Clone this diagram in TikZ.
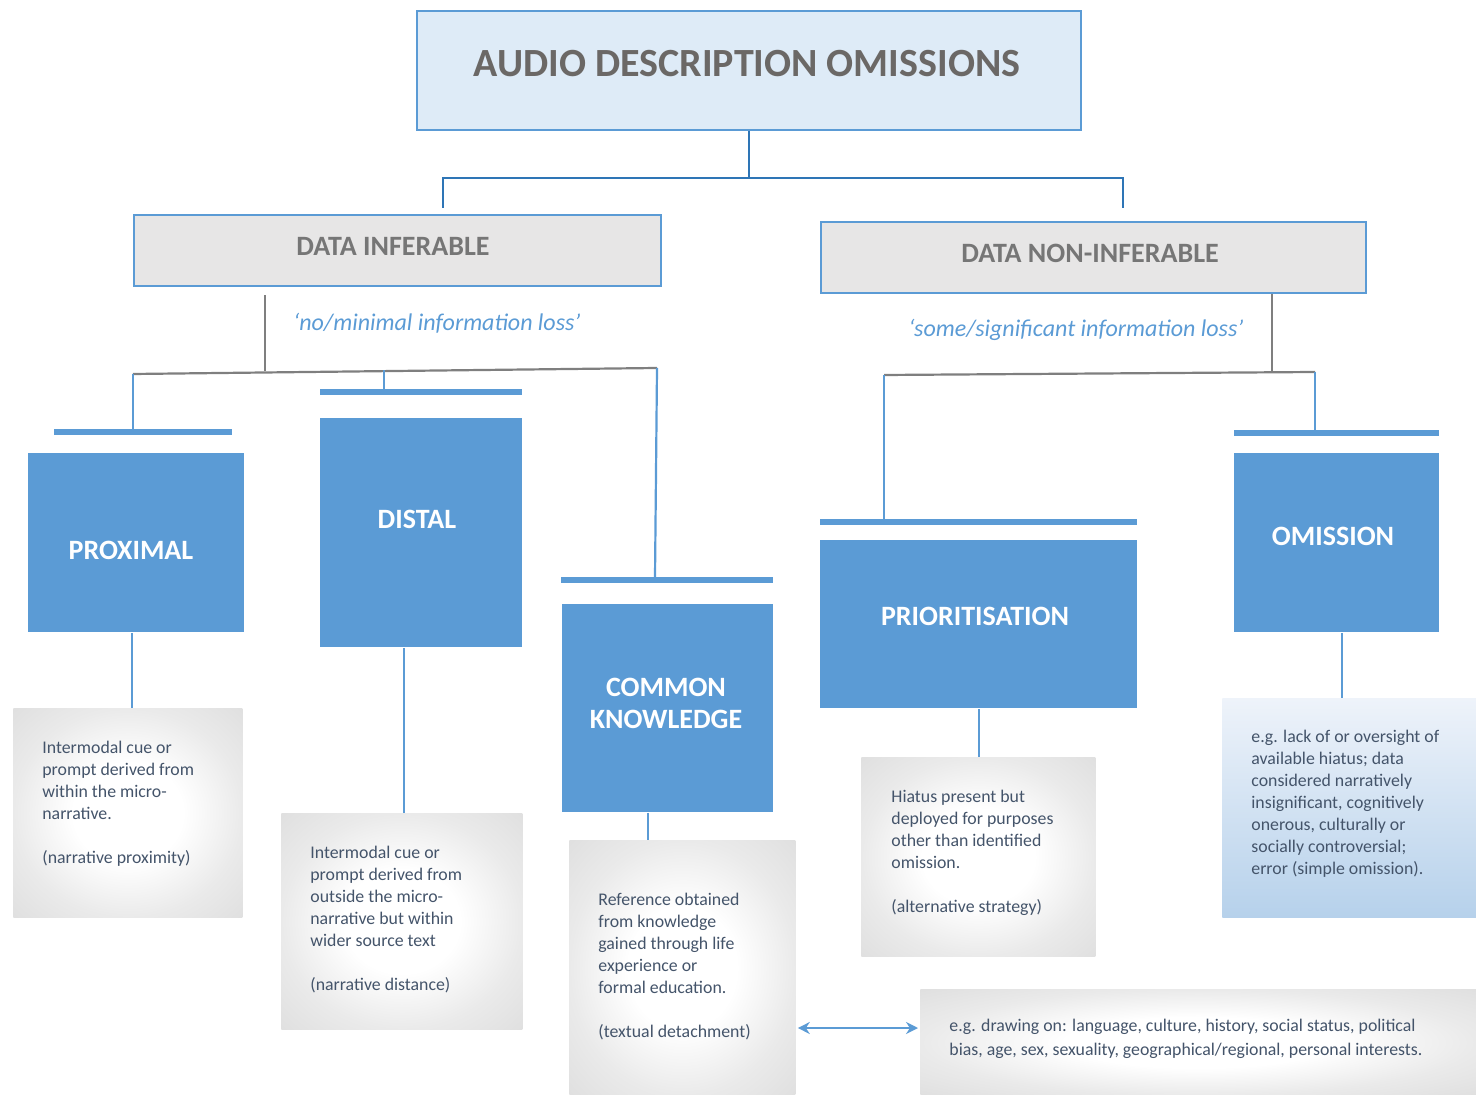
\documentclass[tikz,border=0pt]{standalone}
\usepackage{fontspec}
\setmainfont{Carlito}
\usetikzlibrary{arrows.meta,calc}
\definecolor{myblue}{HTML}{5B9BD5}
\definecolor{darkblue}{HTML}{2E75B6}
\definecolor{titlefill}{HTML}{DEEBF7}
\definecolor{greyfill}{HTML}{E7E6E6}
\definecolor{titletext}{HTML}{6B6866}
\definecolor{greytext}{HTML}{767676}
\definecolor{linegrey}{HTML}{7F7F7F}
\definecolor{desctext}{HTML}{44546A}
\definecolor{descmid}{HTML}{EAEAEA}
\definecolor{descedge}{HTML}{DFDFDF}
\definecolor{omtop}{HTML}{EEF3FA}
\definecolor{ombot}{HTML}{B6D1EB}
\pgfdeclareradialshading{descshade}{\pgfpoint{0bp}{0bp}}{color(0bp)=(white); color(12bp)=(white); color(25bp)=(descmid); color(36bp)=(descedge); color(50bp)=(descedge)}
\begin{document}
\begin{tikzpicture}[x=0.5pt,y=-0.5pt,
  box/.style={inner sep=0pt, anchor=north west},
  titlebox/.style={box, fill=titlefill, draw=myblue, line width=1.2pt},
  greybox/.style={box, fill=greyfill, draw=myblue, line width=1.2pt},
  bluebox/.style={box, fill=myblue},
  bar/.style={box, fill=myblue, minimum height=3pt},
  descbox/.style={box, shading=descshade},
  ombox/.style={box, top color=omtop, bottom color=ombot},
  bigtxt/.style={inner sep=0pt, text=titletext, font=\fontsize{20}{24}\selectfont\bfseries},
  midtxt/.style={inner sep=0pt, text=greytext, font=\fontsize{14}{17}\selectfont\bfseries},
  whitetxt/.style={inner sep=0pt, text=white, align=center, font=\fontsize{14}{16}\selectfont\bfseries},
  losstxt/.style={inner sep=0pt, text=myblue, font=\fontsize{12}{14}\selectfont\itshape},
  desctxt/.style={inner sep=0pt, anchor=west, align=left, text=desctext, font=\fontsize{8.9}{11}\selectfont},
  topline/.style={draw=darkblue, line width=1.2pt},
  greyline/.style={draw=linegrey, line width=1.1pt},
  blueline/.style={draw=myblue, line width=1.1pt},
  arr/.style={draw=myblue, line width=1.3pt, {Stealth[length=6pt,width=6pt]}-{Stealth[length=6pt,width=6pt]}}
]
\useasboundingbox (0,0) rectangle (1476,1095);

% top level
\node[titlebox, minimum width=332pt, minimum height=59.5pt] (title) at (416,10) {};
\node[bigtxt] (titlet) at (747,64) {AUDIO DESCRIPTION OMISSIONS};

\node[greybox, minimum width=263.5pt, minimum height=35.5pt] (di) at (133,214) {};
\node[midtxt] (dit) at (393,246) {DATA INFERABLE};
\node[greybox, minimum width=272.5pt, minimum height=35.5pt] (dni) at (820,221) {};
\node[midtxt] (dnit) at (1090,253) {DATA NON-INFERABLE};

\node[losstxt] (loss1) at (437,323) {‘no/minimal information loss’};
\node[losstxt] (loss2) at (1076,330) {‘some/significant information loss’};

% bars
\node[bar, minimum width=89pt] (pbar) at (54,429) {};
\node[bar, minimum width=101pt] (dbar) at (320,389) {};
\node[bar, minimum width=106pt] (cbar) at (561,577) {};
\node[bar, minimum width=158.5pt] (prbar) at (820,519) {};
\node[bar, minimum width=102.5pt] (obar) at (1234,430) {};

% blue boxes
\node[bluebox, minimum width=108pt, minimum height=89.5pt] (prox) at (28,453) {};
\node[whitetxt] (proxt) at (131,550) {PROXIMAL};
\node[bluebox, minimum width=101pt, minimum height=114.5pt] (dist) at (320,418) {};
\node[whitetxt] (distt) at (417,519) {DISTAL};
\node[bluebox, minimum width=105.5pt, minimum height=104pt] (ck) at (562,604) {};
\node[whitetxt] (ckt) at (666,703) {COMMON\\KNOWLEDGE};
\node[bluebox, minimum width=158.5pt, minimum height=84pt] (prio) at (820,540) {};
\node[whitetxt] (priot) at (975,616) {PRIORITISATION};
\node[bluebox, minimum width=102.5pt, minimum height=89.5pt] (omis) at (1234,453) {};
\node[whitetxt] (omist) at (1333,536) {OMISSION};

% description boxes
\node[descbox, minimum width=114.5pt, minimum height=104.5pt] (pd) at (13,708) {};
\node[desctxt] (pdt) at (42,803.5) {Intermodal cue or\\prompt derived from\\within the micro-\\narrative.\\[11pt](narrative proximity)};
\node[descbox, minimum width=120.5pt, minimum height=108pt] (dd) at (281,813) {};
\node[desctxt] (ddt) at (310,919.5) {Intermodal cue or\\prompt derived from\\outside the micro-\\narrative but within\\wider source text\\[11pt](narrative distance)};
\node[descbox, minimum width=113pt, minimum height=127.5pt] (cd) at (569,840) {};
\node[desctxt] (cdt) at (598,966.5) {Reference obtained\\from knowledge\\gained through life\\experience or\\formal education.\\[11pt](textual detachment)};
\node[descbox, minimum width=117pt, minimum height=99.5pt] (prd) at (861,757) {};
\node[desctxt] (prdt) at (891,852.5) {Hiatus present but\\deployed for purposes\\other than identified\\omission.\\[11pt](alternative strategy)};
\node[ombox, minimum width=127pt, minimum height=109.5pt] (od) at (1222,698) {};
\node[desctxt] (odt) at (1251,803.5) {e.g. lack of or oversight of\\available hiatus; data\\considered narratively\\insignificant, cognitively\\onerous, culturally or\\socially controversial;\\error (simple omission).};
\node[descbox, minimum width=278pt, minimum height=53pt] (ex) at (920,989) {};
\node[desctxt, font=\fontsize{8.9}{12}\selectfont] (ext) at (949,1039) {e.g. drawing on: language, culture, history, social status, political\\bias, age, sex, sexuality, geographical/regional, personal interests.};

% junction coordinates
\coordinate (jl) at (443,178);
\coordinate (jr) at (1123,178);
\coordinate (dib) at (265,371.5);
\coordinate (hl) at (133,374);
\coordinate (hm) at (384,370.5);
\coordinate (hr) at (657,368);
\coordinate (njb) at (1272,373.5);
\coordinate (nl) at (884,375);
\coordinate (nr) at (1315,372);
\coordinate (px) at (132,0);
\coordinate (dx) at (404,0);
\coordinate (cx) at (648,0);
\coordinate (prx) at (979,0);
\coordinate (ox) at (1342,0);
\coordinate (ay) at (0,1028);

% connectors
\draw[topline] (title.south) -- (title.south |- jl);
\draw[topline] ($(jl |- di.north)+(0,-6)$) -- (jl) -- (jr) -- ($(jr |- dni.north)+(0,-13)$);

\draw[greyline] ($(di.south -| dib)+(0,8)$) -- (dib);
\draw[greyline] (hl) -- (hr);
\draw[blueline] (hl) -- (hl |- pbar.north);
\draw[blueline] (hm) -- (hm |- dbar.north);
\draw[blueline] (hr) -- ($(cbar.north -| hr)+(-2,0)$);

\draw[greyline] (dni.south -| njb) -- (njb);
\draw[greyline] (nl) -- (nr);
\draw[blueline] (nl) -- (nl |- prbar.north);
\draw[blueline] (nr) -- (nr |- obar.north);

\draw[blueline] (prox.south -| px) -- (pd.north -| px);
\draw[blueline] (dist.south -| dx) -- (dd.north -| dx);
\draw[blueline] (ck.south -| cx) -- (cd.north -| cx);
\draw[blueline] (prio.south -| prx) -- (prd.north -| prx);
\draw[blueline] (omis.south -| ox) -- (od.north -| ox);

\draw[arr, shorten <=1pt, shorten >=1pt] (cd.east |- ay) -- (ex.west |- ay);
\end{tikzpicture}
\end{document}
